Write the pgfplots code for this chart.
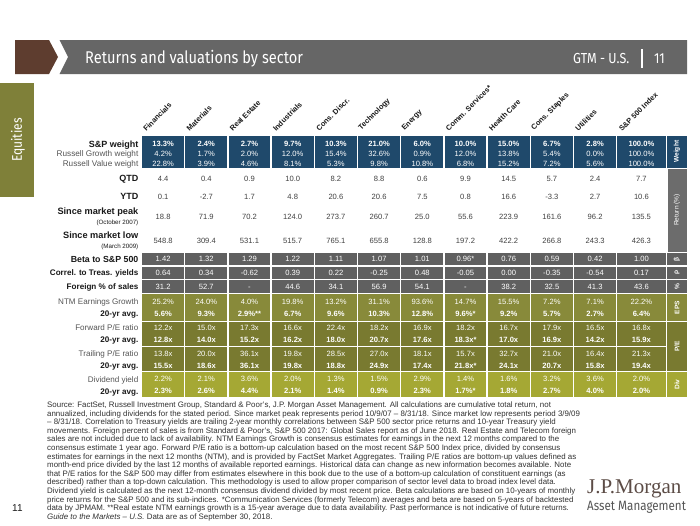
\documentclass[border=0pt]{standalone}
\usepackage{fontspec}
\setmainfont{Liberation Sans}
\newfontfamily\condfont[FakeStretch=0.86]{Fira Sans}
\newfontfamily\logofont{Liberation Serif}
\usepackage{pgfplots}
\pgfplotsset{compat=1.18}
\usepackage{pgfplotstable}
\newcommand\fs[1]{\fontsize{#1}{#1}\selectfont}
\definecolor{navy}{RGB}{31,73,107}
\definecolor{rowgray}{RGB}{96,96,96}
\definecolor{taggray}{RGB}{108,108,108}
\definecolor{epsol}{RGB}{136,138,58}
\definecolor{peol}{RGB}{121,122,48}
\definecolor{divol}{RGB}{165,168,52}
\definecolor{eqol}{RGB}{127,128,57}
\definecolor{hdrgray}{RGB}{102,102,102}
\definecolor{hdrbrown}{RGB}{94,61,47}
\definecolor{valtext}{RGB}{64,64,64}
\definecolor{lbltext}{RGB}{25,25,25}
\definecolor{subtext}{RGB}{85,85,85}
\definecolor{foottext}{RGB}{50,50,50}
\definecolor{logobrown}{RGB}{92,76,70}

\pgfplotstableread{
x sw rg rv qtd ytd peak low beta cor fs ntm ntma fpe fpea tpe tpea dy dya
163.1 13.3\% 4.2\% 22.8\% 4.4 0.1 18.8 548.8 1.42 0.64 31.2 25.2\% 5.6\% 12.2x 12.8x 13.8x 15.5x 2.2\% 2.3\%
206.3 2.4\% 1.7\% 3.9\% 0.4 -2.7 71.9 309.4 1.32 0.34 52.7 24.0\% 9.3\% 15.0x 14.0x 20.0x 18.6x 2.1\% 2.6\%
249.5 2.7\% 2.0\% 4.6\% 0.9 1.7 70.2 531.1 1.29 -0.62 - 4.0\% 2.9\%** 17.3x 15.2x 36.1x 36.1x 3.6\% 4.4\%
292.7 9.7\% 12.0\% 8.1\% 10.0 4.8 124.0 515.7 1.22 0.39 44.6 19.8\% 6.7\% 16.6x 16.2x 19.8x 19.8x 2.0\% 2.1\%
335.9 10.3\% 15.4\% 5.3\% 8.2 20.6 273.7 765.1 1.11 0.22 34.1 13.2\% 9.6\% 22.4x 18.0x 28.5x 18.8x 1.3\% 1.4\%
379.1 21.0\% 32.6\% 9.8\% 8.8 20.6 260.7 655.8 1.07 -0.25 56.9 31.1\% 10.3\% 18.2x 20.7x 27.0x 24.9x 1.5\% 0.9\%
422.3 6.0\% 0.9\% 10.8\% 0.6 7.5 25.0 128.8 1.01 0.48 54.1 93.6\% 12.8\% 16.9x 17.6x 18.1x 17.4x 2.9\% 2.3\%
465.5 10.0\% 12.0\% 6.8\% 9.9 0.8 55.6 197.2 0.96* -0.05 - 14.7\% 9.6\%* 18.2x 18.3x* 15.7x 21.8x* 1.4\% 1.7\%*
508.7 15.0\% 13.8\% 15.2\% 14.5 16.6 223.9 422.2 0.76 0.00 38.2 15.5\% 9.2\% 16.7x 17.0x 32.7x 24.1x 1.6\% 1.8\%
551.9 6.7\% 5.4\% 7.2\% 5.7 -3.3 161.6 266.8 0.59 -0.35 32.5 7.2\% 5.7\% 17.9x 16.9x 21.0x 20.7x 3.2\% 2.7\%
595.1 2.8\% 0.0\% 5.6\% 2.4 2.7 96.2 243.3 0.42 -0.54 41.3 7.1\% 2.7\% 16.5x 14.2x 16.4x 15.8x 3.6\% 4.0\%
641.4 100.0\% 100.0\% 100.0\% 7.7 10.6 135.5 426.3 1.00 0.17 43.6 22.2\% 6.4\% 16.8x 15.9x 21.3x 19.4x 2.0\% 2.0\%
}\sectordata

\pgfplotsset{
  cell/.style={draw=none, mark=none, nodes near coords={\pgfplotspointmeta},
    point meta=explicit symbolic,
    every node near coord/.append style={anchor=base, inner sep=0pt, font=\fs{7.6}}},
  wcell/.style={cell, every node near coord/.append style={text=white}},
  bcell/.style={cell, every node near coord/.append style={text=white, font=\bfseries\fs{7.6}}},
  vcell/.style={cell, every node near coord/.append style={text=valtext}},
}
\tikzset{
  lbl/.style={anchor=base east, inner sep=0pt, text=lbltext},
  tag/.style={rotate=90, anchor=center, inner sep=0pt, text=white, font=\bfseries\fs{6.6}},
}

\begin{document}
\begin{tikzpicture}
\begin{axis}[width=700pt, height=525pt, scale only axis,
  xmin=0, xmax=700, ymin=0, ymax=525, y dir=reverse,
  hide axis, clip=false]
% canvas
\fill[white] (axis cs:0,0) rectangle (axis cs:700,525);
% header
\fill[hdrbrown] (axis cs:15,40) -- (axis cs:49,40) -- (axis cs:58,57) -- (axis cs:49,74) -- (axis cs:15,74) -- cycle;
\fill[hdrgray] (axis cs:59.5,40) -- (axis cs:687,40) -- (axis cs:687,74) -- (axis cs:59.5,74) -- (axis cs:68,57) -- cycle;
\node[anchor=base west, inner sep=0pt, text=white, font=\condfont\fs{17}] at (axis cs:85,63) {Returns and valuations by sector};
\node[anchor=base west, inner sep=0pt, text=white, font=\condfont\fs{14.5}] at (axis cs:573,63) {GTM - U.S.};
\draw[white, line width=1.1pt] (axis cs:642,49) -- (axis cs:642,68);
\node[anchor=base west, inner sep=0pt, text=white, font=\condfont\fs{14.5}] at (axis cs:654,63) {11};
% Equities side box
\fill[eqol] (axis cs:0,83) rectangle (axis cs:34,197);
\node[rotate=90, anchor=center, inner sep=0pt, text=white, font=\condfont\fs{14}] at (axis cs:18,140) {Equities};
% table blocks
\fill[navy] (axis cs:141.5,136) rectangle (axis cs:686.5,167.5);
\fill[taggray] (axis cs:667.5,169) rectangle (axis cs:686.5,251.7);
\fill[rowgray] (axis cs:141.5,253.3) rectangle (axis cs:686.5,265);
\fill[rowgray] (axis cs:141.5,266.7) rectangle (axis cs:686.5,278.5);
\fill[rowgray] (axis cs:141.5,280.2) rectangle (axis cs:686.5,292.5);
\fill[epsol] (axis cs:141.5,294.2) rectangle (axis cs:686.5,320.5);
\fill[peol] (axis cs:141.5,322) rectangle (axis cs:686.5,370.5);
\fill[divol] (axis cs:141.5,372.2) rectangle (axis cs:686.5,396.8);
\draw[white, line width=1.3pt] (axis cs:141.5,346.3) -- (axis cs:666.75,346.3);
\pgfplotsinvokeforeach{184.7,227.9,271.1,314.3,357.5,400.7,443.9,487.1,530.3,573.5,616.7,666.75}{
  \draw[white, line width=1.4pt] (axis cs:#1,134) -- (axis cs:#1,398);
}
% tags
\node[tag] at (axis cs:677,151.7) {Weight};
\node[tag, font=\fs{6.6}] at (axis cs:677,210) {Return (\%)};
\node[tag] at (axis cs:677,259.2) {β};
\node[tag] at (axis cs:677,272.6) {ρ};
\node[tag] at (axis cs:677,286.4) {\%};
\node[tag] at (axis cs:677,307.4) {EPS};
\node[tag] at (axis cs:677,346.3) {P/E};
\node[tag] at (axis cs:677,384.5) {Div};
% row labels
\node[lbl, font=\bfseries\fs{9}] at (axis cs:138.5,147) {S\&P weight};
\node[lbl, text=subtext, font=\fs{8.2}] at (axis cs:138.5,156.7) {Russell Growth weight};
\node[lbl, text=subtext, font=\fs{8.2}] at (axis cs:138.5,166.7) {Russell Value weight};
\node[lbl, font=\bfseries\fs{9}] at (axis cs:138.5,181.6) {QTD};
\node[lbl, font=\bfseries\fs{9}] at (axis cs:138.5,199.5) {YTD};
\node[lbl, font=\bfseries\fs{9.2}] at (axis cs:138.5,214.3) {Since market peak};
\node[lbl, font=\fs{6.2}] at (axis cs:138.5,224) {(October 2007)};
\node[lbl, font=\bfseries\fs{9.2}] at (axis cs:138.5,238.3) {Since market low};
\node[lbl, font=\fs{6.2}] at (axis cs:138.5,248) {(March 2009)};
\node[lbl, font=\bfseries\fs{8.8}] at (axis cs:138.5,262.2) {Beta to S\&P 500};
\node[lbl, font=\bfseries\fs{8.1}] at (axis cs:138.5,275.6) {Correl. to Treas. yields};
\node[lbl, font=\bfseries\fs{8.1}] at (axis cs:138.5,289.4) {Foreign \% of sales};
\node[lbl, text=subtext, font=\fs{8.1}] at (axis cs:138.5,304.9) {NTM Earnings Growth};
\node[lbl, font=\bfseries\fs{8.1}] at (axis cs:138.5,316.9) {20-yr avg.};
\node[lbl, text=subtext, font=\fs{8.1}] at (axis cs:138.5,330.6) {Forward P/E ratio};
\node[lbl, font=\bfseries\fs{8.1}] at (axis cs:138.5,342.6) {20-yr avg.};
\node[lbl, text=subtext, font=\fs{8.1}] at (axis cs:138.5,356.3) {Trailing P/E ratio};
\node[lbl, font=\bfseries\fs{8.1}] at (axis cs:138.5,368.3) {20-yr avg.};
\node[lbl, text=subtext, font=\fs{8.1}] at (axis cs:138.5,382.1) {Dividend yield};
\node[lbl, font=\bfseries\fs{8.1}] at (axis cs:138.5,394.1) {20-yr avg.};
% sector headers
\addplot[draw=none, mark=none, nodes near coords={\pgfplotspointmeta}, point meta=explicit symbolic,
  every node near coord/.append style={rotate=45, anchor=south west, inner sep=0pt, text=lbltext, font=\bfseries\fs{7.4}}]
  coordinates {(146.5,132)[Financials] (189.7,132)[Materials] (232.9,132)[Real Estate] (276.1,132)[Industrials]
  (319.3,132)[Cons. Discr.] (362.5,132)[Technology] (405.7,132)[Energy] (448.9,132)[Comm. Services*]
  (492.1,132)[Health Care] (535.3,132)[Cons. Staples] (578.5,132)[Utilities] (622.2,132)[S\&P 500 Index]};
% values
\addplot[bcell] table[x=x, y expr=146.4, meta=sw] {\sectordata};
\addplot[wcell] table[x=x, y expr=156.4, meta=rg] {\sectordata};
\addplot[wcell] table[x=x, y expr=166.4, meta=rv] {\sectordata};
\addplot[vcell] table[x=x, y expr=181.1, meta=qtd] {\sectordata};
\addplot[vcell] table[x=x, y expr=199.0, meta=ytd] {\sectordata};
\addplot[vcell] table[x=x, y expr=219.7, meta=peak] {\sectordata};
\addplot[vcell] table[x=x, y expr=243.2, meta=low] {\sectordata};
\addplot[wcell] table[x=x, y expr=261.9, meta=beta] {\sectordata};
\addplot[wcell] table[x=x, y expr=275.4, meta=cor] {\sectordata};
\addplot[wcell] table[x=x, y expr=289.2, meta=fs] {\sectordata};
\addplot[wcell] table[x=x, y expr=304.7, meta=ntm] {\sectordata};
\addplot[bcell] table[x=x, y expr=316.7, meta=ntma] {\sectordata};
\addplot[wcell] table[x=x, y expr=330.4, meta=fpe] {\sectordata};
\addplot[bcell] table[x=x, y expr=342.4, meta=fpea] {\sectordata};
\addplot[wcell] table[x=x, y expr=356.1, meta=tpe] {\sectordata};
\addplot[bcell] table[x=x, y expr=368.1, meta=tpea] {\sectordata};
\addplot[wcell] table[x=x, y expr=381.9, meta=dy] {\sectordata};
\addplot[bcell] table[x=x, y expr=393.9, meta=dya] {\sectordata};
% footnote
\node[anchor=north west, inner sep=0pt, align=left, text=foottext, font=\fontsize{7.9}{8.6}\selectfont] at (axis cs:47,401.5) {%
Source: FactSet, Russell Investment Group, Standard \& Poor's, J.P. Morgan Asset Management. All calculations are cumulative total return, not\\
annualized, including dividends for the stated period. Since market peak represents period 10/9/07 -- 8/31/18. Since market low represents period 3/9/09\\
-- 8/31/18. Correlation to Treasury yields are trailing 2-year monthly correlations between S\&P 500 sector price returns and 10-year Treasury yield\\
movements. Foreign percent of sales is from Standard \& Poor's, S\&P 500 2017: Global Sales report as of June 2018. Real Estate and Telecom foreign\\
sales are not included due to lack of availability. NTM Earnings Growth is consensus estimates for earnings in the next 12 months compared to the\\
consensus estimate 1 year ago. Forward P/E ratio is a bottom-up calculation based on the most recent S\&P 500 Index price, divided by consensus\\
estimates for earnings in the next 12 months (NTM), and is provided by FactSet Market Aggregates. Trailing P/E ratios are bottom-up values defined as\\
month-end price divided by the last 12 months of available reported earnings. Historical data can change as new information becomes available. Note\\
that P/E ratios for the S\&P 500 may differ from estimates elsewhere in this book due to the use of a bottom-up calculation of constituent earnings (as\\
described) rather than a top-down calculation. This methodology is used to allow proper comparison of sector level data to broad index level data.\\
Dividend yield is calculated as the next 12-month consensus dividend divided by most recent price. Beta calculations are based on 10-years of monthly\\
price returns for the S\&P 500 and its sub-indices. *Communication Services (formerly Telecom) averages and beta are based on 5-years of backtested\\
data by JPMAM. **Real estate NTM earnings growth is a 15-year average due to data availability. Past performance is not indicative of future returns.\\
\textit{Guide to the Markets -- U.S.} Data are as of September 30, 2018.};
\node[anchor=base west, inner sep=0pt, text=lbltext, font=\fs{10}] at (axis cs:12,511.5) {11};
% logo
\node[anchor=base west, inner sep=0pt, text=logobrown, font=\logofont\fs{21}] at (axis cs:587,493.5) {J.P.Morgan};
\node[anchor=base west, inner sep=0pt, text=subtext, font=\condfont\fs{13.5}] at (axis cs:587,510.5) {Asset Management};
\end{axis}
\end{tikzpicture}
\end{document}
